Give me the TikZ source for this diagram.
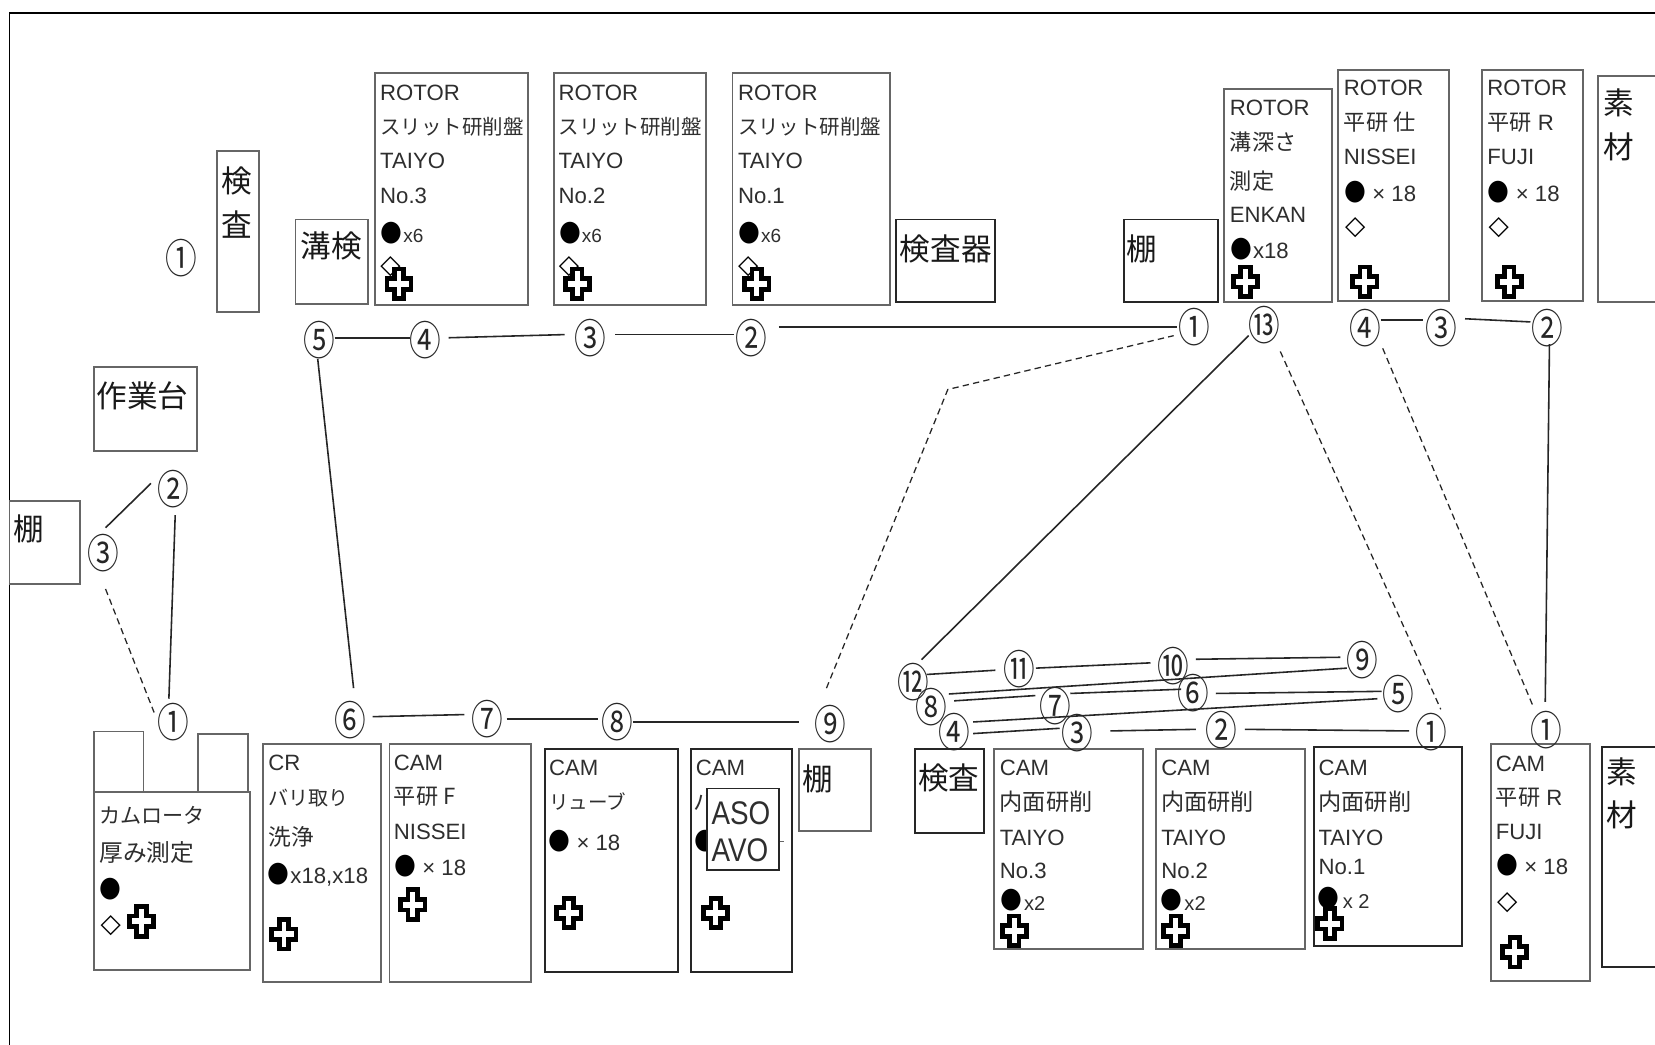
\documentclass[tikz,border=0pt]{standalone}
\usepackage{fontspec}
\usepackage{graphicx}
\setmainfont{Liberation Sans}
\newfontfamily\cjkf{Noto Sans CJK JP}
\newfontfamily\djvf{DejaVu Sans}
\usetikzlibrary{calc}
\newcommand\J[2][21]{{\cjkf\fontsize{#1}{#1}\selectfont #2}}
\newcommand\JB[1]{{\cjkf #1}}
\newcount\tcnt
\definecolor{edge}{gray}{0.40}
\definecolor{ink}{gray}{0.18}
\tikzset{
  boxg/.style={draw=edge,line width=1.8pt,fill=white,inner sep=0pt,rectangle},
  boxd/.style={draw=black!85,line width=1.8pt,fill=white,inner sep=0pt,rectangle},
  txt/.style={anchor=west,inner sep=0pt,yshift=-4pt,text height=.74em,text depth=.02em,text=ink,font=\fontsize{21}{21}\selectfont},
  big/.style={anchor=center,inner sep=0pt,text=black!90,font=\cjkf\fontsize{29}{29}\selectfont},
  sym/.style={anchor=center,inner sep=0pt,text=black,font=\djvf\fontsize{25}{25}\selectfont},
  circnum/.style={anchor=center,inner sep=0pt,text=black!85,font=\cjkf\fontsize{30}{30}\selectfont},
  ln/.style={line width=1.5pt,draw=black!85},
  dsh/.style={line width=1.2pt,draw=black!85,dash pattern=on 6pt off 4pt},
  plusst/.style={draw=black,line width=4.4pt,fill=white,miter limit=10}
}
% box: name, style, x1,y1,x2,y2
\newcommand\bx[6]{%
  \pgfmathsetmacro\bw{#5-#3}\pgfmathsetmacro\bh{#6-#4}%
  \pgfmathsetmacro\cx{(#3+#5)/2}\pgfmathsetmacro\cy{(#4+#6)/2}%
  \node[#2,minimum width=\bw pt,minimum height=\bh pt] (#1) at (\cx,\cy) {};}
\newcommand\lab[3][]{\global\advance\tcnt1 \node[txt,#1] (t\the\tcnt) at (#2) {#3};}
\newcommand\bigt[2]{\global\advance\tcnt1 \node[big] (t\the\tcnt) at (#1) {\JB{#2}};}
\newcommand\dotm[1]{\global\advance\tcnt1 \node[sym] (t\the\tcnt) at (#1) {\scalebox{.95}[1.08]{●}};}
\newcommand\diam[1]{\global\advance\tcnt1 \node[sym,font=\djvf\fontsize{25}{25}\selectfont] (t\the\tcnt) at (#1) {◇};}
\newcommand\plusm[1]{\draw[plusst,shift={(#1)}] (-4.5,-14)--(4.5,-14)--(4.5,-5)--(11.5,-5)--(11.5,5)--(4.5,5)--(4.5,14)--(-4.5,14)--(-4.5,5)--(-11.5,5)--(-11.5,-5)--(-4.5,-5)--cycle;}
\newcommand\cn[3]{\node[circnum] (#1) at (#2) {\scalebox{1}[1.28]{#3}};}
\newcommand\lk[5][ln]{\draw[#1] ([shift={(#3)}]#2.center) -- ([shift={(#5)}]#4.center);}
\newcommand\asot[2]{\global\advance\tcnt1 \node[txt,yshift=-2pt,font=\fontsize{31}{31}\selectfont] (t\the\tcnt) at (#1) {\scalebox{.85}[1]{#2}};}
\begin{document}
\begin{tikzpicture}[x=1pt,y=-1pt]
\useasboundingbox (0,0) rectangle (1568,990);
\clip (0,0) rectangle (1568,990);
\fill[white] (0,0) rectangle (1568,990);
\coordinate (fa) at (9,990);
\coordinate (fb) at (9,12);
\coordinate (fc) at (1568,12);
\draw[line width=1.8pt,black] (fa) -- (fb) -- (fc);

% --- boxes, upper row
\bx{kensaA}{boxg}{206}{143}{245}{296}
\bigt{224,171}{検}\bigt{224,213}{査}
\bx{mizo}{boxg}{280}{208}{349}{288}
\bigt{314,233}{溝検}
\bx{rs3}{boxg}{355}{69}{500}{289}
\lab{360,88}{ROTOR}\lab{360,120}{\J[19.4]{スリット研削盤}}\lab{360,152}{TAIYO}\lab{360,185}{No.3}
\dotm{371,221}\lab[font=\fontsize{18}{18}\selectfont]{382,222}{x6}\diam{370,253}\plusm{378,269}
\bx{rs2}{boxg}{525}{69}{669}{289}
\lab{529,88}{ROTOR}\lab{529,120}{\J[19.4]{スリット研削盤}}\lab{529,152}{TAIYO}\lab{529,185}{No.2}
\dotm{540,221}\lab[font=\fontsize{18}{18}\selectfont]{551,222}{x6}\diam{539,253}\plusm{547,269}
\bx{rs1}{boxg}{694}{69}{843}{289}
\lab{699,88}{ROTOR}\lab{699,120}{\J[19.4]{スリット研削盤}}\lab{699,152}{TAIYO}\lab{699,185}{No.1}
\dotm{710,221}\lab[font=\fontsize{18}{18}\selectfont]{721,222}{x6}\diam{709,253}\plusm{717,269}
\bx{kensaki}{boxd}{849}{208}{943}{286}
\bigt{896,236}{検査器}
\bx{tanaA}{boxd}{1065}{208}{1154}{286}
\bigt{1082,236}{棚}
\bx{mizofuka}{boxg}{1160}{84}{1262}{286}
\lab{1165,102}{ROTOR}\lab{1165,135}{\J{溝深さ}}\lab{1165,172}{\J{測定}}\lab{1165,203}{ENKAN}
\dotm{1176,236}\lab{1187,237}{x18}\plusm{1180,267}
\bx{heishi}{boxg}{1268}{66}{1373}{285}
\lab{1273,83}{ROTOR}\lab{1273,116}{\J{平研 仕}}\lab{1273,148}{NISSEI}
\dotm{1284,182}\lab{1300,183}{× 18}\diam{1284,216}\plusm{1293,267}
\bx{heir}{boxg}{1404}{66}{1500}{285}
\lab{1409,83}{ROTOR}\lab{1409,116}{\J{平研} R}\lab{1409,148}{FUJI}
\dotm{1420,182}\lab{1436,183}{× 18}\diam{1420,216}\plusm{1430,267}
\bx{sozaiA}{boxg}{1514}{72}{1590}{286}
\bigt{1534,97}{素}\bigt{1534,139}{材}

% --- left side
\bx{sagyo}{boxg}{89}{348}{187}{427}
\bigt{135,375}{作業台}
\bx{tanaB}{boxg}{9}{475}{76}{553}
\bigt{27,501}{棚}
\bx{tabL}{boxg}{89}{693}{136}{750}
\bx{tabR}{boxg}{188}{695}{235}{750}
\bx{kam}{boxg}{89}{750}{237}{919}
\lab{94,773}{\J[20]{カムロータ}}\lab{94,809}{\J[22.5]{厚み測定}}
\dotm{105,842}\diam{105,877}\plusm{134,873}

% --- lower middle
\bx{cr}{boxg}{249}{705}{361}{930}
\lab{254,722}{CR}\lab{254,756}{\J[19]{バリ取り}}\lab{254,793}{\J[21.5]{洗浄}}
\dotm{264,828}\lab{275,829}{x18,x18}\plusm{269,885}
\bx{camf}{boxg}{369}{705}{503}{930}
\lab{373,722}{CAM}\lab{373,755}{\J{平研 F}}\lab{373,788}{NISSEI}
\dotm{384,821}\lab{400,822}{× 18}\plusm{391,857}
\bx{lube}{boxd}{516}{710}{642}{921}
\lab{520,727}{CAM}\lab{520,759}{\J[18.5]{リューブ}}
\dotm{530,797}\lab{546,798}{× 18}\plusm{539,865}
\bx{cam4}{boxd}{655}{710}{750}{921}
\lab{659,727}{CAM}\lab{657,760}{\J{ハ}}
\dotm{668,797}\plusm{678,865}
\coordinate (tka) at (738,797);
\coordinate (tkb) at (743,797);
\draw[edge,line width=1.2pt] (tka) -- (tkb);
\bx{aso}{boxd}{670}{747}{738}{824}
\asot{674,772}{ASO}\asot{674,807}{AVO}
\bx{tanaC}{boxg}{757}{710}{825}{787}
\bigt{775,738}{棚}
\bx{kensaB}{boxd}{867}{710}{932}{789}
\bigt{899,737}{検査}

% --- internal grinders
\bx{nai3}{boxg}{942}{710}{1083}{899}
\lab{947,727}{CAM}\lab{947,760}{\J[22]{内面研削}}\lab{947,793}{TAIYO}\lab{947,825}{No.3}
\dotm{958,853}\lab[font=\fontsize{19}{19}\selectfont]{970,855}{x2}\plusm{961,882}
\bx{nai2}{boxg}{1095}{710}{1236}{899}
\lab{1100,727}{CAM}\lab{1100,760}{\J[22]{内面研削}}\lab{1100,793}{TAIYO}\lab{1100,825}{No.2}
\dotm{1110,853}\lab[font=\fontsize{19}{19}\selectfont]{1122,855}{x2}\plusm{1114,882}
\bx{nai1}{boxd}{1245}{708}{1385}{896}
\lab{1249,727}{CAM}\lab{1249,760}{\J[22]{内面研削}}\lab{1249,793}{TAIYO}\lab{1249,821}{No.1}
\dotm{1259,851}\lab[font=\fontsize{19}{19}\selectfont]{1272,853}{x 2}\plusm{1260,875}
\bx{camr}{boxg}{1413}{705}{1506}{929}
\lab{1417,723}{CAM}\lab{1417,756}{\J{平研} R}\lab{1417,788}{FUJI}
\dotm{1428,820}\lab{1444,821}{× 18}\diam{1428,855}\plusm{1435,902}
\bx{sozaiB}{boxd}{1518}{708}{1590}{916}
\bigt{1537,731}{素}\bigt{1537,772}{材}

% --- circled numbers
\cn{X1}{172,245}{①}
\cn{T1}{1132,310}{①}\cn{T2}{712,320}{②}\cn{T3}{559,320}{③}\cn{T4}{403,322}{④}\cn{T5}{303,322}{⑤}
\cn{T6}{332,682}{⑥}\cn{T7}{462,681}{⑦}\cn{T8}{585,684}{⑧}\cn{T9}{787,686}{⑨}
\cn{L1}{1356,694}{①}\cn{L2}{1157,692}{②}\cn{L3}{1021,695}{③}\cn{L4}{904,694}{④}
\cn{L5}{1325,658}{⑤}\cn{L6}{1131,657}{⑥}\cn{L7}{1000,669}{⑦}\cn{L8}{882,670}{⑧}
\cn{L9}{1291,625}{⑨}\cn{L10}{1112,631}{⑩}\cn{L11}{966,634}{⑪}\cn{L12}{865,646}{⑫}\cn{L13}{1198,308}{⑬}
\cn{R4}{1294,311}{④}\cn{R3}{1366,311}{③}\cn{R2}{1466,311}{②}\cn{Q1}{1465,692}{①}
\cn{A1}{164,684}{①}\cn{A2}{164,463}{②}\cn{A3}{98,524}{③}

% --- connectors
\lk{T2}{26,-10}{T1}{-17,0}
\lk{T3}{24,-3}{T2}{-17,-3}
\lk{T4}{22,-2}{T3}{-24,-3}
\lk{T5}{14,-2}{T4}{-15,-2}
\lk{T5}{-2,18}{T6}{3,-30}
\lk{T6}{21,-3}{T7}{-22,-4}
\lk{T7}{18,0}{T8}{-18,-3}
\lk{T8}{15,0}{T9}{-30,-2}
\coordinate (wp) at (898,369);
\draw[dsh] ([shift={(-4,-34)}]T9.center) -- (wp) -- ([shift={(-20,8)}]T1.center);
\lk{L2}{22.5,-1}{L1}{-21,-1.5}
\lk{L3}{31,-2.5}{L2}{-24,-1}
\lk{L4}{18,1}{L3}{-17,-5}
\lk{L4}{18,-10}{L5}{-20,4}
\lk{L6}{21,0}{L5}{-16,-3}
\lk{L7}{14,-12}{L6}{-12,-4}
\lk{L8}{22,-6}{L7}{-19,-10}
\lk{L8}{17,-12.5}{L9}{-15,8}
\lk{L10}{21,-6.4}{L9}{-21,-2.3}
\lk{L11}{15.5,-1}{L10}{-22,-3}
\lk{L12}{13,-7}{L11}{-23,1}
\lk{L12}{8,-21}{L13}{-15,10}
\lk[dsh]{L13}{15,25}{L1}{9,-22}
\lk{R4}{14,-8}{R3}{-18,-8}
\lk{R3}{22,-9}{R2}{-16,-6}
\lk{R2}{2,15}{Q1}{-1,-27}
\lk[dsh]{R4}{16,19}{Q1}{-13,-24}
\lk{A2}{-21,-5}{A3}{2,-24}
\lk{A2}{2,25}{A1}{-4,-22}
\lk[dsh]{A3}{2,34}{A1}{-18,-9}
\end{tikzpicture}
\end{document}
